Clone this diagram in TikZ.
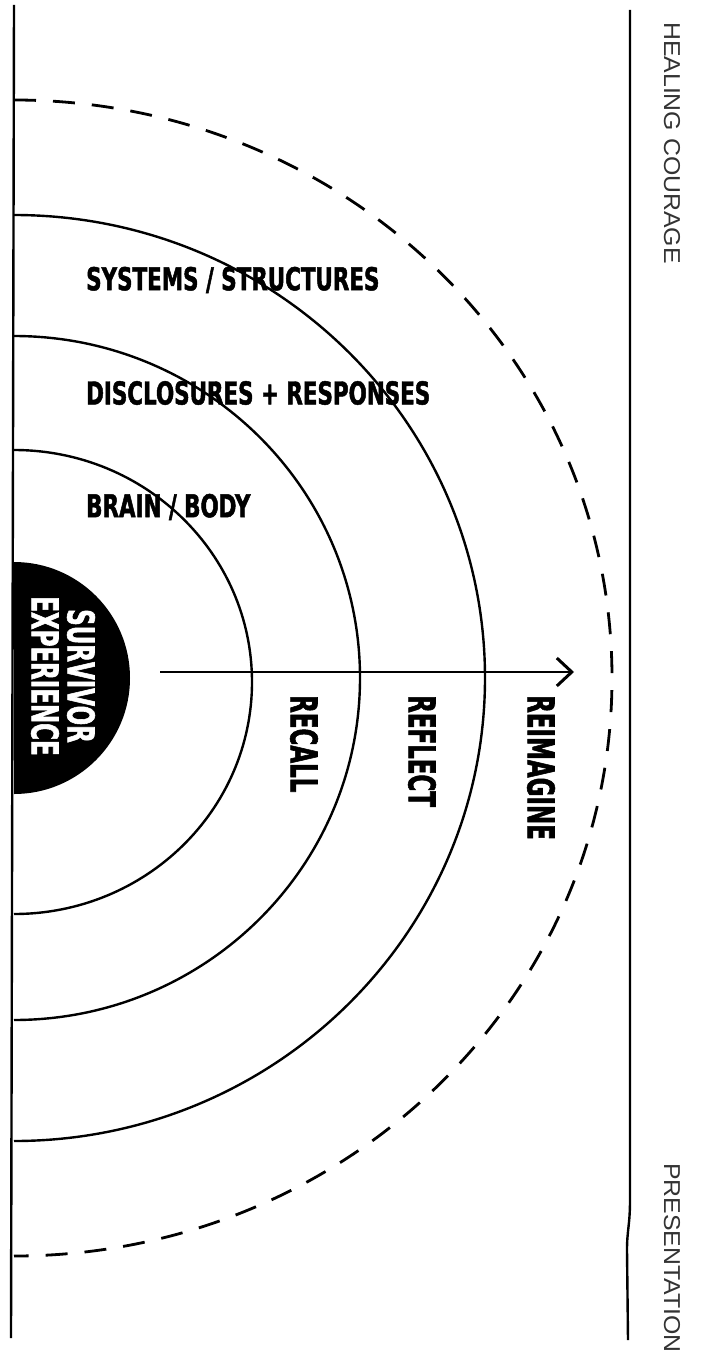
\documentclass[tikz,border=0pt]{standalone}
\usepackage{fontspec}
\usepackage{tikz}
\usetikzlibrary{arrows.meta}
\newfontfamily\layerfont[FakeStretch=0.68,BoldFeatures={FakeBold=1.5}]{DejaVu Sans}
\newfontfamily\stagefont[FakeStretch=0.62,BoldFeatures={FakeBold=1.5}]{DejaVu Sans}
\newfontfamily\sidefont[FakeStretch=1.08]{Liberation Sans}

\begin{document}
\begin{tikzpicture}[x=1pt,y=-1pt,
  ring/.style={line width=2.4pt},
  outer/.style={line width=2.8pt,dash pattern=on 22pt off 17pt},
  layer/.style={font=\layerfont\bfseries\fontsize{31.5}{32}\selectfont,anchor=west,inner sep=0pt},
  stage/.style={font=\stagefont\bfseries\fontsize{37}{36}\selectfont,rotate=-90,anchor=west,inner sep=0pt},
  side/.style={font=\sidefont\fontsize{23}{23}\selectfont,text=black!80,rotate=-90,anchor=west,inner sep=0pt}]
  \useasboundingbox (0,0) rectangle (702,1356);

  \fill (14,562) arc[start angle=-90,end angle=90,radius=116];
  \draw[ring] (14,450) arc[start angle=-90,end angle=90,x radius=238,y radius=232];
  \draw[ring] (14,336) arc[start angle=-90,end angle=90,x radius=346,y radius=342];
  \draw[ring] (14,215) arc[start angle=-90,end angle=90,x radius=471,y radius=463];
  \draw[outer] (14,100) arc[start angle=-90,end angle=90,x radius=598,y radius=578];

  \draw[ring] (14,5) -- (11,1338);
  \draw[ring] (630,10) -- (630,1200) .. controls (630,1225) and (627,1230) .. (627,1250) -- (628,1340);

  \coordinate (go) at (160,672);
  \coordinate (tip) at (574,672);
  \draw[ring,-{Straight Barb[length=15pt,width=28pt,line width=3pt]}] (go) -- (tip);

  \node[layer] (systems) at (86,280) {SYSTEMS / STRUCTURES};
  \node[layer] (disclosures) at (86,393) {DISCLOSURES + RESPONSES};
  \node[layer] (brain) at (86,507) {BRAIN / BODY};

  \node[stage,text=white,align=center,anchor=center] (survivor) at (63,676) {SURVIVOR\\EXPERIENCE};
  \node[stage] (recall) at (304,695) {RECALL};
  \node[stage] (reflect) at (422,695) {REFLECT};
  \node[stage] (reimagine) at (541,695) {REIMAGINE};

  \node[side] (healing) at (672,22) {HEALING COURAGE};
  \node[side] (presentation) at (672,1163) {PRESENTATION};
\end{tikzpicture}
\end{document}
